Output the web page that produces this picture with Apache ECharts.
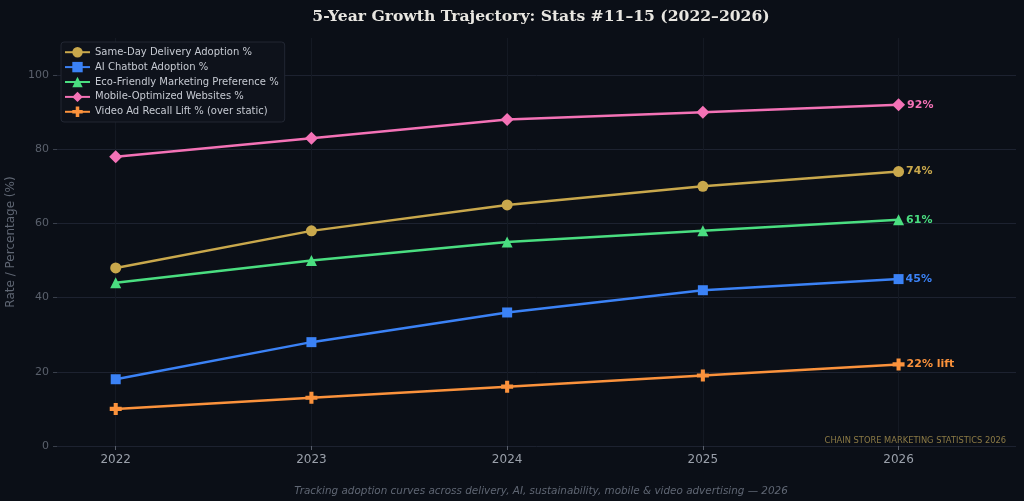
<!DOCTYPE html>
<html>
<head>
<meta charset="utf-8">
<title>5-Year Growth Trajectory</title>
<script src="https://cdn.jsdelivr.net/npm/echarts@6/dist/echarts.min.js"></script>
<style>
  html, body { margin: 0; padding: 0; background: #0b0f17; }
  #chart { width: 1024px; height: 501px; }
</style>
</head>
<body>
<div id="chart"></div>
<script>
'use strict';

// data
const years = [2022, 2023, 2024, 2025, 2026];
const yTicks = [0, 20, 40, 60, 80, 100];

const seriesNames = [
  'Same-Day Delivery Adoption %',
  'AI Chatbot Adoption %',
  'Eco-Friendly Marketing Preference %',
  'Mobile-Optimized Websites %',
  'Video Ad Recall Lift % (over static)'
];
const sameDay = [48, 58, 65, 70, 74];
const aiChatbot = [18, 28, 36, 42, 45];
const ecoFriendly = [44, 50, 55, 58, 61];
const mobileSites = [78, 83, 88, 90, 92];
const videoLift = [10, 13, 16, 19, 22];
const endSuffix = ['%', '%', '%', '%', '% lift'];

const colors = ['#c9a84c', '#3b82f6', '#4ade80', '#f472b6', '#fb923c'];
const PLUS = 'path://M3.3,0H6.7V3.3H10V6.7H6.7V10H3.3V6.7H0V3.3H3.3Z';
const symbols = ['circle', 'rect', 'triangle', 'diamond', PLUS];
const symbolSizes = [11, 10, 11, 13, 12];

(function () {
  const FONT = '"DejaVu Sans", sans-serif';
  const chart = echarts.init(document.getElementById('chart'));
  const values = [sameDay, aiChatbot, ecoFriendly, mobileSites, videoLift];

  const series = values.map((vals, i) => ({
    name: seriesNames[i],
    type: 'line',
    data: vals.map((v, j) => {
      const point = { value: [years[j], v] };
      if (j === vals.length - 1) {
        point.label = {
          show: true,
          position: 'right',
          distance: 2,
          formatter: v + endSuffix[i],
          color: colors[i],
          fontFamily: FONT,
          fontWeight: 'bold',
          fontSize: 11
        };
      }
      return point;
    }),
    symbol: symbols[i],
    symbolSize: symbolSizes[i],
    showAllSymbol: true,
    lineStyle: { color: colors[i], width: 2.5 },
    itemStyle: { color: colors[i] },
    emphasis: { disabled: true },
    z: 3
  }));

  const option = {
    backgroundColor: '#0b0f17',
    animation: false,
    textStyle: { fontFamily: FONT },
    title: [{
      text: '5-Year Growth Trajectory: Stats #11\u201315 (2022\u20132026)',
      left: 536,
      textAlign: 'center',
      top: 4,
      textStyle: { fontFamily: '"DejaVu Serif", serif', fontWeight: 'bold', fontSize: 15.6, color: '#e8e6e1' }
    }, {
      text: 'Tracking adoption curves across delivery, AI, sustainability, mobile & video advertising \u2014 2026',
      left: 536,
      textAlign: 'center',
      top: 481,
      textStyle: { fontFamily: FONT, fontStyle: 'italic', fontWeight: 'normal', fontSize: 10.4, color: '#5f6673' }
    }, {
      text: 'CHAIN STORE MARKETING STATISTICS 2026',
      right: 13,
      top: 432,
      textStyle: { fontFamily: FONT, fontWeight: 'normal', fontSize: 8.3, color: '#8c7a45' }
    }],
    legend: {
      orient: 'vertical',
      left: 61,
      top: 42,
      padding: [5, 6, 5, 3],
      itemGap: 4.5,
      itemWidth: 25,
      itemHeight: 13,
      backgroundColor: '#0e121b',
      borderColor: '#222733',
      borderWidth: 1,
      borderRadius: 3,
      textStyle: { color: '#c6cad2', fontSize: 10, fontFamily: FONT },
      data: seriesNames
    },
    grid: { left: 57, right: 8, top: 38, bottom: 55, outerBoundsMode: 'none', containLabel: false },
    xAxis: {
      type: 'value',
      min: 2021.7,
      max: 2026.6,
      axisLine: { show: false },
      axisTick: { show: true, length: 4, customValues: years, lineStyle: { color: '#5a606c' } },
      axisLabel: { customValues: years, color: '#9aa0aa', fontSize: 12, margin: 8, formatter: (v) => String(v) },
      splitLine: { show: true, lineStyle: { color: '#141923', width: 1 } }
    },
    yAxis: {
      type: 'value',
      min: 0,
      max: 110,
      name: 'Rate / Percentage (%)',
      nameLocation: 'middle',
      nameGap: 37,
      nameTextStyle: { color: '#5f6673', fontSize: 12, fontFamily: FONT },
      axisLine: { show: false },
      axisTick: { show: true, length: 4, customValues: yTicks, lineStyle: { color: '#3a404c' } },
      axisLabel: { customValues: yTicks, color: '#5a606c', fontSize: 11, margin: 8 },
      splitLine: { show: true, lineStyle: { color: '#1d2230', width: 1 } }
    },
    series: series
  };

  chart.setOption(option);
})();
</script>
</body>
</html>
